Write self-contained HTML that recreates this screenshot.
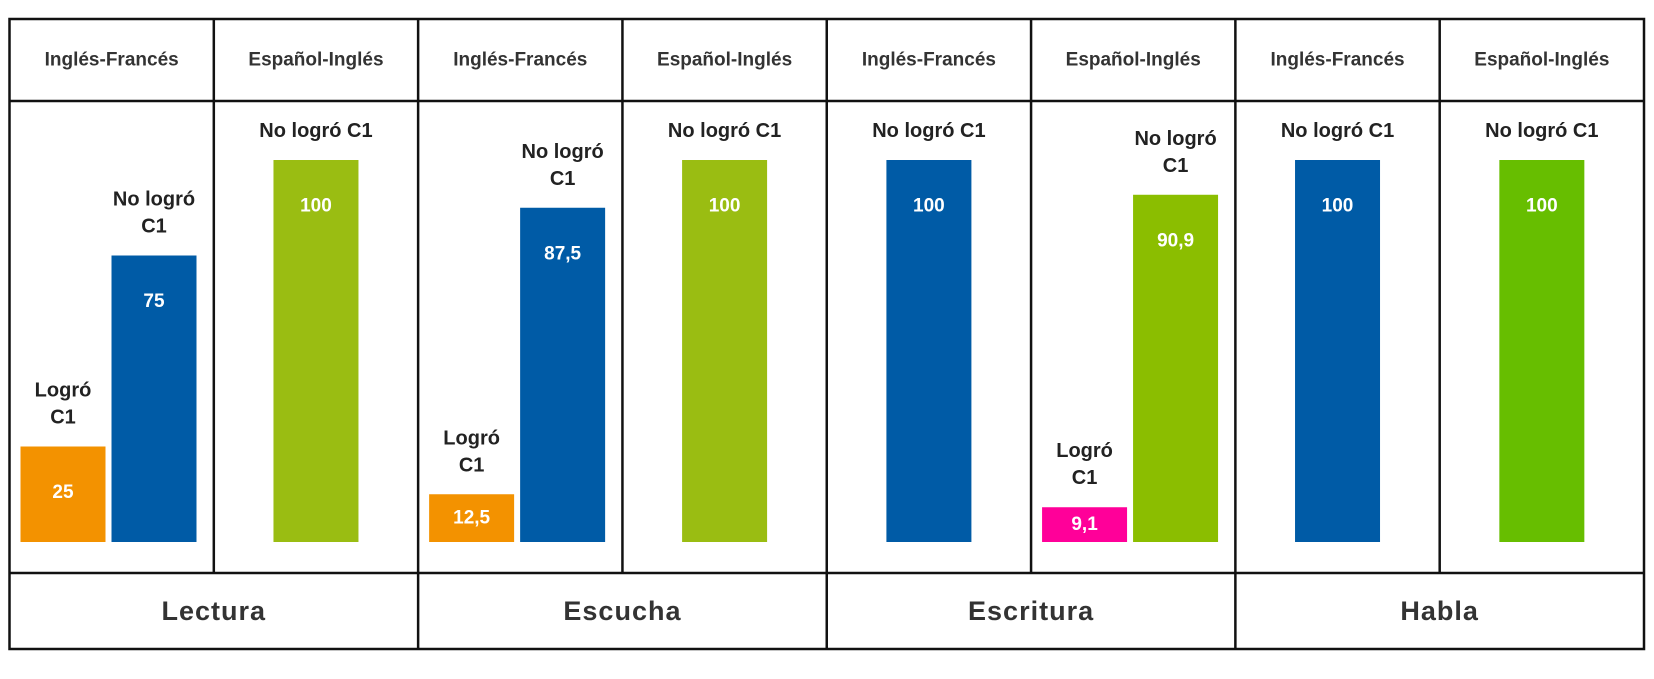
<!DOCTYPE html>
<html><head><meta charset="utf-8">
<style>
html,body{margin:0;padding:0;background:#fff;}
svg{display:block;font-family:"Liberation Sans",sans-serif;}
</style></head>
<body>
<svg id="chart" width="1654" height="679" viewBox="0 0 1654 679" xmlns="http://www.w3.org/2000/svg">
<g id="grid"></g>
<g id="bars"></g>
<g id="texts"></g>
</svg>
<script>
const skills = ["Lectura","Escucha","Escritura","Habla"];
const pairs = ["Inglés-Francés","Español-Inglés"];
const logroValues = [25, null, 12.5, null, null, 9.1, null, null];
const noLogroValues = [75, 100, 87.5, 100, 100, 90.9, 100, 100];
const noLogroColors = ["#005BA6","#9ABD12","#005BA6","#9ABD12","#005BA6","#8BBE00","#005BA6","#67BE00"];
const logroColors = ["#F39200","#F39200","#F39200","#F39200","#FF0099","#FF0099","#FF0099","#FF0099"];

const NS="http://www.w3.org/2000/svg";
const L=9.5,R=1644,T=19,HB=101,BB=573,B=649;
const colW=(R-L)/8;
const base=542, scale=382/100;
const y = v => base - v*scale;
function fmt(v){return String(v).replace('.',',');}
function mk(tag,attrs,parent){const e=document.createElementNS(NS,tag);for(const k in attrs)e.setAttribute(k,attrs[k]);parent.appendChild(e);return e;}
const grid=document.getElementById('grid'),bars=document.getElementById('bars'),texts=document.getElementById('texts');

const outer=mk('rect',{x:L,y:T,width:R-L,height:B-T,fill:'none',stroke:'#111','stroke-width':2.5},grid);


const hl1=mk('line',{x1:L,x2:R,y1:HB,y2:HB,stroke:'#111','stroke-width':2.5},grid);


const hl2=mk('line',{x1:L,x2:R,y1:BB,y2:BB,stroke:'#111','stroke-width':2.5},grid);


for(let i=1;i<8;i++){
  const x=L+i*colW;
  const ln=mk('line',{x1:x,x2:x,y1:T,y2:(i%2===0)?B:BB,stroke:'#111','stroke-width':2.5},grid);
  
  
}
function label(x,yy,str,size,fill,name,weight){
  const t=mk('text',{x:x,y:yy,'text-anchor':'middle','dominant-baseline':'central','font-size':size,'font-weight':weight||'bold',fill:fill},texts);
  t.textContent=str;
  
  
  return t;
}
function barLabel(x,top,lines){
  for(let k=0;k<lines.length;k++){
    label(x, top-29-(lines.length-1-k)*27, lines[k], 20, '#222', 'bar-category-label');
  }
}
function valLabel(x,top,v){
  const h=base-top;
  const off=Math.min(46,h/2);
  label(x, top+off, fmt(v), 19, '#fff', 'bar-value-label');
}
for(let c=0;c<8;c++){
  const cl=L+c*colW;
  label(cl+colW/2,(T+HB)/2,pairs[c%2],19,'#333','column-header','bold');
  const bw=85;
  if(logroValues[c]!==null){
    const x1=cl+11, x2=x1+bw+6;
    const t1=y(logroValues[c]);
    const r1=mk('rect',{x:x1,y:t1,width:bw,height:base-t1,fill:logroColors[c]},bars);
    
    
    barLabel(x1+bw/2,t1,["Logró","C1"]);
    valLabel(x1+bw/2,t1,logroValues[c]);
    const t2=y(noLogroValues[c]);
    const r2=mk('rect',{x:x2,y:t2,width:bw,height:base-t2,fill:noLogroColors[c]},bars);
    
    
    barLabel(x2+bw/2,t2,["No logró","C1"]);
    valLabel(x2+bw/2,t2,noLogroValues[c]);
  } else {
    const cx=cl+colW/2, x=cx-bw/2;
    const t2=y(noLogroValues[c]);
    const r2=mk('rect',{x:x,y:t2,width:bw,height:base-t2,fill:noLogroColors[c]},bars);
    
    
    barLabel(cx,t2,["No logró C1"]);
    valLabel(cx,t2,noLogroValues[c]);
  }
}
for(let s=0;s<4;s++){
  const t=label(L+(2*s+1)*colW,(BB+B)/2,skills[s],27,'#333','skill-label','bold');
  t.setAttribute('letter-spacing','1');
}
</script>
</body></html>
